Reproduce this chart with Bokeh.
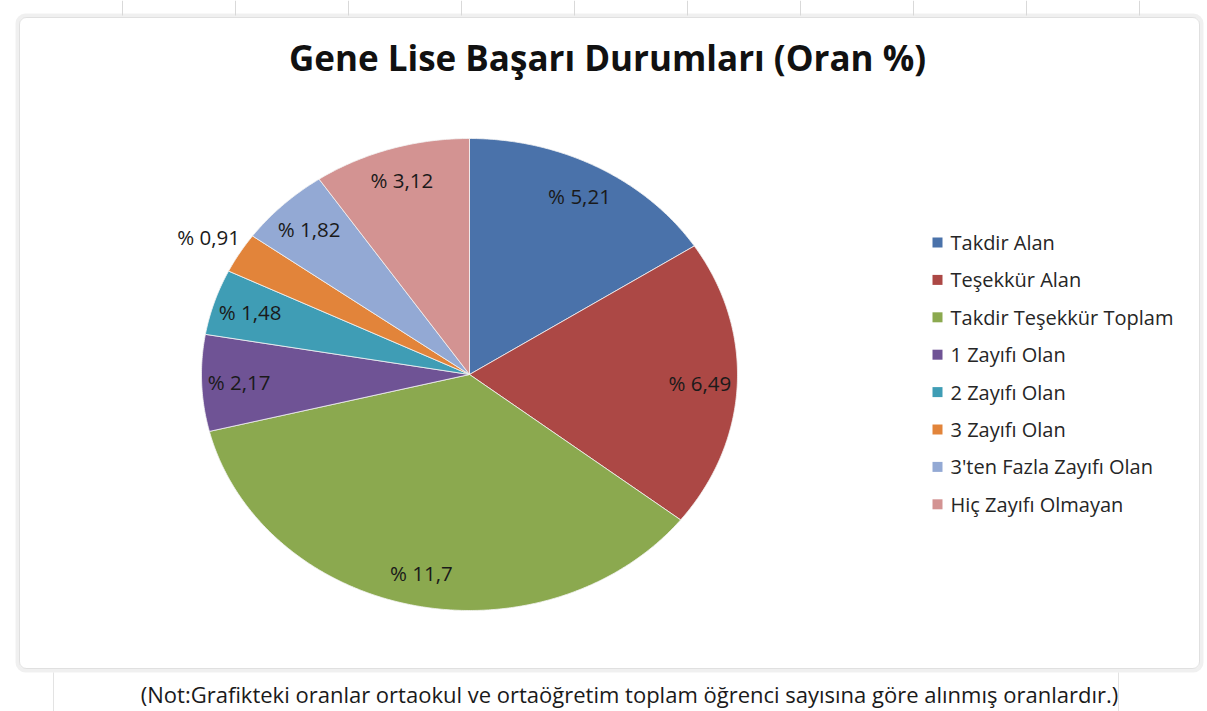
import numpy as np
from bokeh.plotting import figure
from bokeh.models import Range1d, BoxAnnotation, ColumnDataSource
from bokeh.core.properties import value
from bokeh.embed import file_html
from bokeh.resources import INLINE

# ---------------- data ----------------
title_text = "Gene Lise Başarı Durumları (Oran %)"
categories = ["Takdir Alan", "Teşekkür Alan", "Takdir Teşekkür Toplam",
              "1 Zayıfı Olan", "2 Zayıfı Olan", "3 Zayıfı Olan",
              "3'ten Fazla Zayıfı Olan", "Hiç Zayıfı Olmayan"]
values = [5.21, 6.49, 11.7, 2.17, 1.48, 0.91, 1.82, 3.12]
value_labels = ["% 5,21", "% 6,49", "% 11,7", "% 2,17", "% 1,48", "% 0,91", "% 1,82", "% 3,12"]
colors = ["#4A72AA", "#AC4845", "#8BA94F", "#6F5395", "#3F9DB5", "#E2843A", "#93A9D4", "#D39392"]
note_text = "(Not:Grafikteki oranlar ortaokul ve ortaöğretim toplam öğrenci sayısına göre alınmış oranlardır.)"

FONT = "Open Sans"
W, H = 1207, 711

p = figure(width=W, height=H, output_backend="svg", toolbar_location=None,
           x_range=Range1d(0, W), y_range=Range1d(H, 0),
           min_border=0, outline_line_color=None, background_fill_color="white")
p.axis.visible = False
p.grid.visible = False

# spreadsheet grid outside chart area
for gx in [122, 235, 348, 461, 574, 687, 800, 913, 1026, 1139]:
    p.segment(x0=gx, y0=0, x1=gx, y1=15, line_color="#D9D9D9", line_width=1)
p.segment(x0=53, y0=672, x1=53, y1=711, line_color="#E3E3E3", line_width=1)
p.segment(x0=1118, y0=672, x1=1118, y1=711, line_color="#E3E3E3", line_width=1)

# chart area border
p.add_layout(BoxAnnotation(left=17, right=1201, top=15, bottom=670,
                           fill_alpha=0.0, line_color="#CDCDCD", line_width=4,
                           border_radius=8, level="underlay"))
p.add_layout(BoxAnnotation(left=19, right=1199, top=17, bottom=668,
                           fill_alpha=0.0, line_color="#A8A8A8", line_width=1,
                           border_radius=7, level="underlay"))

# ---------------- pie (elliptical, clockwise from top) ----------------
cx, cy, rx, ry = 469, 374, 268, 236
vals = np.array(values, dtype=float)
frac = vals / vals.sum()
ends = np.cumsum(frac) * 2 * np.pi
starts = ends - frac * 2 * np.pi
xs, ys = [], []
for a0, a1 in zip(starts, ends):
    t = np.linspace(a0, a1, max(int((a1 - a0) * 120), 4))
    xs.append(np.concatenate([[cx], cx + rx * np.sin(t), [cx]]))
    ys.append(np.concatenate([[cy], cy - ry * np.cos(t), [cy]]))
p.patches(xs=xs, ys=ys, fill_color=colors, line_color="#F4F4F4", line_width=0.8)

mids = (starts + ends) / 2
outside = frac < 0.03
lr = np.where(outside, 1.135, 0.86)
lx = cx + rx * lr * np.sin(mids)
ly = cy - ry * lr * np.cos(mids)
src_in = ColumnDataSource(dict(x=lx[~outside], y=ly[~outside],
                               t=[s for s, o in zip(value_labels, outside) if not o]))
src_out = ColumnDataSource(dict(x=lx[outside], y=ly[outside],
                                t=[s for s, o in zip(value_labels, outside) if o]))
p.text(x="x", y="y", text="t", source=src_in, text_font=value(FONT), text_font_size="20.5px",
       text_color="#1A1A1A", text_align="center", text_baseline="middle")
p.text(x="x", y="y", text="t", source=src_out, text_font=value(FONT), text_font_size="20.5px",
       text_color="#1A1A1A", text_align="center", text_baseline="middle",
       background_fill_color="white")

# ---------------- legend ----------------
n = len(categories)
leg_y = 242 + np.arange(n) * 37.4
p.scatter(x=[937] * n, y=leg_y, marker="square", size=10, fill_color=colors, line_color=None)
p.text(x=[950] * n, y=leg_y, text=categories, text_font=value(FONT), text_font_size="20px",
       text_color="#262626", text_align="left", text_baseline="middle")

# ---------------- titles ----------------
p.text(x=[607], y=[57], text=[title_text], text_font=value(FONT), text_font_size="35px",
       text_font_style="bold", text_color="#111111", text_align="center", text_baseline="middle")
p.text(x=[629], y=[693], text=[note_text], text_font=value(FONT), text_font_size="22px",
       text_color="#1A1A1A", text_align="center", text_baseline="middle")

open("out.html", "w").write(file_html(p, INLINE))
